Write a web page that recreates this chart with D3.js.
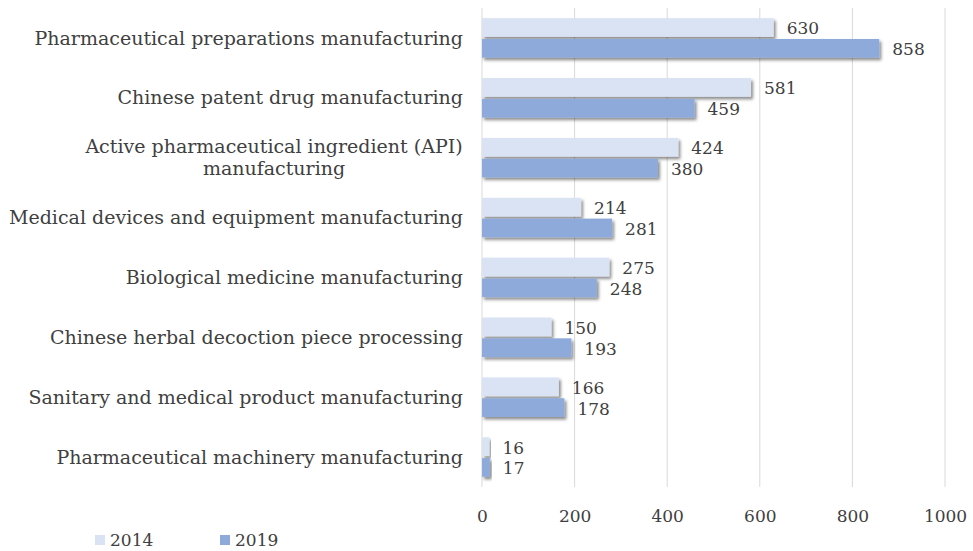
<!DOCTYPE html>
<html>
<head>
<meta charset="utf-8">
<script src="https://cdn.jsdelivr.net/npm/d3@7"></script>
<style>
  html, body { margin: 0; padding: 0; background: #fff; }
  svg { display: block; }
  text { font-family: "DejaVu Serif", "Liberation Serif", serif; fill: #404040; }
</style>
</head>
<body>
<svg id="chart" width="973" height="551"></svg>
<script>
// Industry categories (top to bottom)
const categories = [
  "Pharmaceutical preparations manufacturing",
  "Chinese patent drug manufacturing",
  "Active pharmaceutical ingredient (API) manufacturing",
  "Medical devices and equipment manufacturing",
  "Biological medicine manufacturing",
  "Chinese herbal decoction piece processing",
  "Sanitary and medical product manufacturing",
  "Pharmaceutical machinery manufacturing"
];
// Label lines (API label wraps to two lines)
const categoryLines = [
  ["Pharmaceutical preparations manufacturing"],
  ["Chinese patent drug manufacturing"],
  ["Active pharmaceutical ingredient (API)", "manufacturing"],
  ["Medical devices and equipment manufacturing"],
  ["Biological medicine manufacturing"],
  ["Chinese herbal decoction piece processing"],
  ["Sanitary and medical product manufacturing"],
  ["Pharmaceutical machinery manufacturing"]
];
const seriesNames = ["2014", "2019"];
const values2014 = [630, 581, 424, 214, 275, 150, 166, 16];
const values2019 = [858, 459, 380, 281, 248, 193, 178, 17];
const xTicks = [0, 200, 400, 600, 800, 1000];
const colors = ["#dae3f3", "#8eaadb"];

const svg = d3.select("#chart");
const margin = { left: 482, right: 28, top: 8, bottom: 64 };
const W = 973, H = 551;

const x = d3.scaleLinear().domain([0, 1000]).range([margin.left, W - margin.right]);
const y = d3.scaleBand().domain(categories).range([margin.top, H - margin.bottom]).paddingInner(0.34).paddingOuter(0.17);
const ySub = d3.scaleBand().domain(seriesNames).range([0, y.bandwidth()]).paddingInner(0.1);

// soft drop shadow beneath bars
const defs = svg.append("defs");
const f = defs.append("filter").attr("id", "shadow").attr("x", "-10%").attr("y", "-30%").attr("width", "130%").attr("height", "180%");
f.append("feDropShadow").attr("dx", 2).attr("dy", 2.5).attr("stdDeviation", 1.8)
  .attr("flood-color", "#000").attr("flood-opacity", 0.45);

// gridlines
svg.append("g").selectAll("line").data(xTicks).join("line")
  .attr("x1", d => x(d)).attr("x2", d => x(d))
  .attr("y1", margin.top).attr("y2", H - margin.bottom)
  .attr("stroke", "#d9d9d9").attr("stroke-width", 1);

// x axis tick labels
const xAxis = d3.axisBottom(x).tickValues(xTicks).tickSize(0).tickPadding(0).tickFormat(d3.format("d"));
const gx = svg.append("g").attr("transform", `translate(0, ${H - margin.bottom + 32})`).call(xAxis);
gx.select(".domain").remove();
gx.selectAll("text").attr("font-size", 17).attr("font-family", "DejaVu Serif").attr("fill", "#595959").attr("dy", "0.2em");

// bars
const rows = categories.map((c, i) => ({ c, vals: [values2014[i], values2019[i]] }));
const groups = svg.append("g").selectAll("g").data(rows).join("g")
  .attr("transform", d => `translate(0, ${y(d.c)})`);

groups.selectAll("rect").data(d => d.vals.map((v, j) => ({ v, s: seriesNames[j], j }))).join("rect")
  .attr("x", x(0))
  .attr("y", d => ySub(d.s))
  .attr("width", d => x(d.v) - x(0))
  .attr("height", ySub.bandwidth())
  .attr("fill", d => colors[d.j])
  .attr("filter", "url(#shadow)");

groups.selectAll("text.val").data(d => d.vals.map((v, j) => ({ v, s: seriesNames[j] }))).join("text")
  .attr("class", "val")
  .attr("x", d => x(d.v) + 13)
  .attr("y", d => ySub(d.s) + ySub.bandwidth() / 2 + 1)
  .attr("dy", "0.35em")
  .attr("font-size", 17)
  .text(d => d.v);

// category labels
const labelG = svg.append("g");
categories.forEach((c, i) => {
  const lines = categoryLines[i];
  const cy = y(c) + y.bandwidth() / 2;
  const lh = 22;
  const t = labelG.append("text")
    .attr("text-anchor", lines.length > 1 ? "middle" : "end")
    .attr("font-size", 19);
  lines.forEach((ln, k) => {
    t.append("tspan")
      .attr("x", lines.length > 1 ? 274 : 463)
      .attr("y", cy + (k - (lines.length - 1) / 2) * lh)
      .attr("dy", "0.35em")
      .text(ln);
  });
});

// legend
const legend = svg.append("g");
const legendX = [95, 220];
seriesNames.forEach((s, j) => {
  legend.append("rect").attr("x", legendX[j]).attr("y", 535).attr("width", 10).attr("height", 10).attr("fill", colors[j]);
  legend.append("text").attr("x", legendX[j] + 15).attr("y", 540).attr("dy", "0.38em")
    .attr("font-size", 17).attr("fill", "#595959").text(s);
});
</script>
</body>
</html>
